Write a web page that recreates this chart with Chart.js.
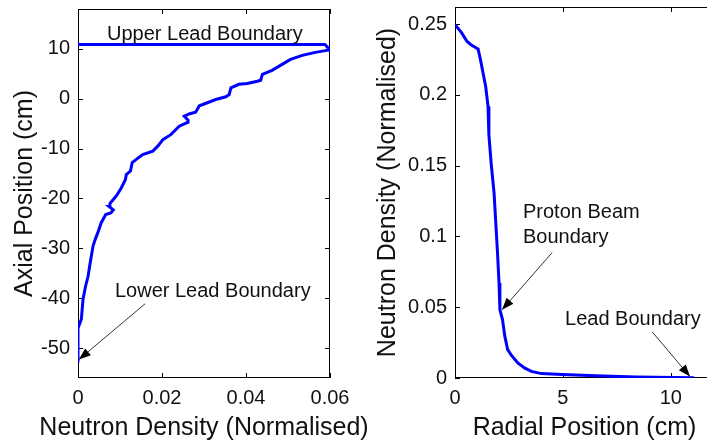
<!DOCTYPE html>
<html>
<head>
<meta charset="utf-8">
<script src="https://cdn.jsdelivr.net/npm/chart.js@4"></script>
<style>
  html, body { margin: 0; padding: 0; background: #fff; overflow: hidden; }
  body { width: 707px; height: 445px; position: relative; }
  #axial { position: absolute; left: 0; top: 0; }
  #radial { position: absolute; left: 350px; top: 0; }
</style>
</head>
<body>
<canvas id="axial" width="370" height="445"></canvas>
<canvas id="radial" width="364" height="445"></canvas>
<script>
// left panel: neutron density along the axis
const axialDensity = [0, 0, 0.0008, 0.0012, 0.0018, 0.0024, 0.0029, 0.0036, 0.0041, 0.0047, 0.0055,
  0.0066, 0.0078, 0.0084, 0.0074, 0.0076, 0.0091, 0.0103, 0.0113, 0.0115, 0.0125, 0.0129, 0.0138,
  0.0154, 0.0178, 0.0190, 0.0202, 0.0221, 0.0241, 0.0262, 0.0262, 0.0253, 0.0266, 0.0280, 0.0289,
  0.0308, 0.0328, 0.0352, 0.0360, 0.0364, 0.0383, 0.0403, 0.0427, 0.0435, 0.0439, 0.0462, 0.0486,
  0.0506, 0.0534, 0.0565, 0.0593, 0.0600, 0.0588, 0];
const axialPosition = [-52.9, -46, -44.2, -40.2, -37.6, -35.6, -32.9, -29.5, -28.2, -26.9, -24.9,
  -23.2, -22.9, -22.3, -21.6, -21.0, -19.5, -17.9, -16.2, -15.2, -14.5, -12.8, -12.2,
  -11.2, -10.5, -9.5, -8.2, -7.2, -5.5, -4.7, -4.3, -3.5, -3.0, -2.7, -1.4,
  -0.8, -0.15, 0.4, 0.85, 2.2, 2.9, 3.05, 3.5, 3.7, 4.9, 5.7, 6.9,
  7.9, 8.7, 9.3, 9.7, 9.8, 10.9, 10.9];
const axialXTicks = [0, 0.02, 0.04, 0.06];
const axialXLabels = ["0", "0.02", "0.04", "0.06"];
const axialYTicks = [-50, -40, -30, -20, -10, 0, 10];
const axialYLabels = ["-50", "-40", "-30", "-20", "-10", "0", "10"];

// right panel: neutron density across the radius
const radialPosition = [0, 0.31, 0.55, 0.74, 0.99, 1.07, 1.18, 1.30, 1.42, 1.53, 1.57, 1.68, 1.81,
  1.89, 1.97, 2.04, 2.08, 2.20, 2.31, 2.44, 2.59, 2.91, 3.22, 3.54, 4.01, 4.95, 6.53, 8.41, 11.08];
const radialDensity = [0.2495, 0.2437, 0.2378, 0.2354, 0.2330, 0.2323, 0.2248, 0.2154, 0.2060,
  0.1919, 0.1718, 0.1507, 0.1307, 0.1095, 0.0883, 0.0671, 0.0483, 0.0412, 0.0294, 0.0200,
  0.0165, 0.0106, 0.0071, 0.0047, 0.0031, 0.0024, 0.0016, 0.0007, 0.0002];
const radialXTicks = [0, 5, 10];
const radialXLabels = ["0", "5", "10"];
const radialYTicks = [0, 0.05, 0.1, 0.15, 0.2, 0.25];
const radialYLabels = ["0", "0.05", "0.1", "0.15", "0.2", "0.25"];

const FONT = "'Liberation Sans', Arial, sans-serif";
const TICK = 5;

// matlab style box with inward ticks on every side
const framePlugin = {
  id: "frame",
  beforeDatasetsDraw(chart) {
    const { ctx, chartArea: a, scales: { x, y } } = chart;
    ctx.save();
    ctx.strokeStyle = "#000";
    ctx.lineWidth = 1;
    ctx.strokeRect(a.left + 0.5, a.top + 0.5, a.right - a.left - 1, a.bottom - a.top - 1);
    ctx.beginPath();
    x.ticks.forEach(t => {
      const px = Math.round(x.getPixelForValue(t.value)) + 0.5;
      ctx.moveTo(px, a.bottom); ctx.lineTo(px, a.bottom - TICK);
      ctx.moveTo(px, a.top); ctx.lineTo(px, a.top + TICK);
    });
    y.ticks.forEach(t => {
      const py = Math.round(y.getPixelForValue(t.value)) + 0.5;
      ctx.moveTo(a.left, py); ctx.lineTo(a.left + TICK, py);
      ctx.moveTo(a.right, py); ctx.lineTo(a.right - TICK, py);
    });
    ctx.stroke();
    ctx.restore();
  }
};

// x title (drawn here so it is not squeezed to the axis width), labels and arrows in data units
const notesPlugin = {
  id: "notes",
  afterDatasetsDraw(chart, args, opts) {
    const { ctx, chartArea: a, scales: { x, y } } = chart;
    ctx.save();
    ctx.fillStyle = "#111";
    ctx.font = "25px " + FONT;
    ctx.textAlign = "center";
    ctx.textBaseline = "middle";
    ctx.fillText(opts.xTitle, (a.left + a.right) / 2, chart.height - 17);

    ctx.font = "20px " + FONT;
    ctx.textBaseline = "alphabetic";
    (opts.labels || []).forEach(l => {
      ctx.textAlign = l.align;
      ctx.fillText(l.text, x.getPixelForValue(l.x), y.getPixelForValue(l.y));
    });
    (opts.arrows || []).forEach(ar => {
      const x1 = x.getPixelForValue(ar.from[0]), y1 = y.getPixelForValue(ar.from[1]);
      const x2 = x.getPixelForValue(ar.to[0]), y2 = y.getPixelForValue(ar.to[1]);
      const c = Math.cos(Math.atan2(y2 - y1, x2 - x1)), s = Math.sin(Math.atan2(y2 - y1, x2 - x1));
      ctx.strokeStyle = "#333";
      ctx.lineWidth = 1;
      ctx.beginPath();
      ctx.moveTo(x1, y1);
      ctx.lineTo(x2, y2);
      ctx.stroke();
      ctx.fillStyle = "#000";
      ctx.beginPath();
      ctx.moveTo(x2, y2);
      ctx.lineTo(x2 - 12 * c + 4.5 * s, y2 - 12 * s - 4.5 * c);
      ctx.lineTo(x2 - 12 * c - 4.5 * s, y2 - 12 * s + 4.5 * c);
      ctx.closePath();
      ctx.fill();
    });
    ctx.restore();
  }
};

function makeAxis(min, max, ticks, labels, title, titlePad, size, horizontal) {
  return {
    type: "linear",
    min: min,
    max: max,
    afterBuildTicks: s => { s.ticks = ticks.map(v => ({ value: v })); },
    afterFit: s => {
      if (horizontal) { s.height = size; s.paddingLeft = 0; s.paddingRight = 0; }
      else { s.width = size; s.paddingTop = 0; s.paddingBottom = 0; }
    },
    ticks: {
      callback: (v, i) => labels[i],
      padding: 8,
      autoSkip: false,
      maxRotation: 0,
      color: "#111",
      font: { family: FONT, size: 20 }
    },
    grid: { display: false, drawTicks: false },
    border: { display: false },
    title: {
      display: !horizontal,
      text: title,
      color: "#111",
      font: { family: FONT, size: 25 },
      padding: titlePad
    }
  };
}

function makeChart(id, xs, ys, scales, pad, notes) {
  return new Chart(document.getElementById(id), {
    type: "scatter",
    data: {
      datasets: [{
        data: xs.map((v, i) => ({ x: v, y: ys[i] })),
        showLine: true,
        borderColor: "#0000ff",
        borderWidth: 3,
        pointRadius: 0,
        tension: 0,
        fill: false
      }]
    },
    options: {
      responsive: false,
      animation: false,
      events: [],
      layout: { padding: pad },
      scales: scales,
      plugins: { legend: { display: false }, tooltip: { enabled: false }, notes: notes }
    },
    plugins: [framePlugin, notesPlugin]
  });
}

makeChart("axial", axialDensity, axialPosition, {
  x: makeAxis(0, 0.06, axialXTicks, axialXLabels, "", {}, 67, true),
  y: makeAxis(-56, 18, axialYTicks, axialYLabels, "Axial Position (cm)", { top: 10, bottom: 0 }, 78, false)
}, { top: 9, right: 40, left: 0, bottom: 0 }, {
  xTitle: "Neutron Density (Normalised)",
  labels: [
    { text: "Upper Lead Boundary", x: 0.0302, y: 11.7, align: "center" },
    { text: "Lower Lead Boundary", x: 0.0088, y: -39.7, align: "left" }
  ],
  arrows: [{ from: [0.016, -41.1], to: [0.0002, -52.3] }]
});

makeChart("radial", radialPosition, radialDensity, {
  x: makeAxis(0, 12, radialXTicks, radialXLabels, "", {}, 67, true),
  y: makeAxis(0, 0.262, radialYTicks, radialYLabels, "Neutron Density (Normalised)", { top: 23, bottom: 0 }, 105, false)
}, { top: 7, right: 0, left: 0, bottom: 0 }, {
  xTitle: "Radial Position (cm)",
  labels: [
    { text: "Proton Beam", x: 3.15, y: 0.1132, align: "left" },
    { text: "Boundary", x: 3.15, y: 0.0955, align: "left" },
    { text: "Lead Boundary", x: 5.1, y: 0.0376, align: "left" }
  ],
  arrows: [
    { from: [4.5, 0.0885], to: [2.18, 0.0482] },
    { from: [9.13, 0.0327], to: [10.89, 0.001] }
  ]
});
</script>
</body>
</html>
